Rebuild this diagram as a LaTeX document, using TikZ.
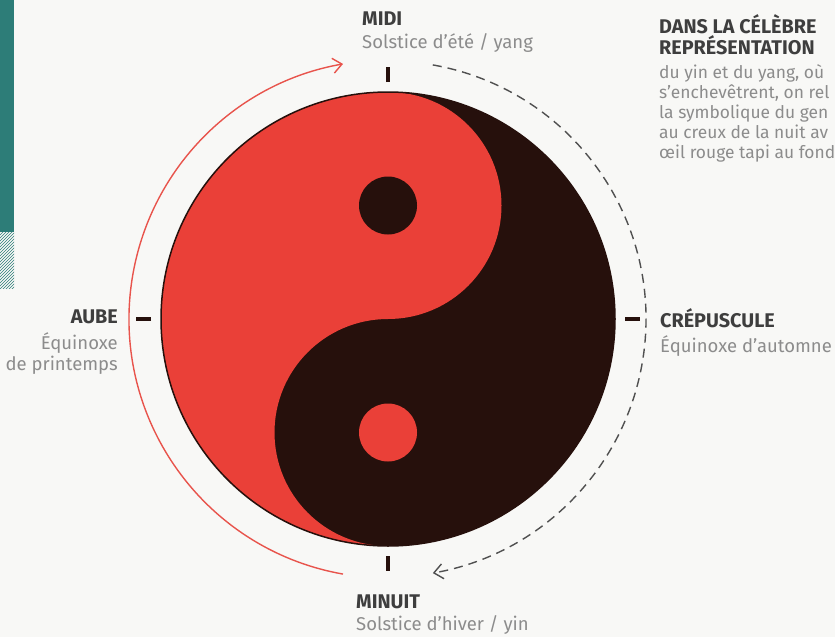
\documentclass[tikz,border=0pt]{standalone}
\usepackage{fontspec}
\setmainfont{Fira Sans}[Ligatures=NoCommon]
\usetikzlibrary{arrows.meta,patterns}
\definecolor{yangred}{RGB}{234,64,56}
\definecolor{yinbrown}{RGB}{38,16,12}
\definecolor{arcred}{RGB}{232,84,76}
\definecolor{dashgray}{RGB}{80,80,80}
\definecolor{labelgray}{RGB}{62,62,62}
\definecolor{softgray}{RGB}{140,140,140}
\definecolor{barteal}{RGB}{45,125,120}
\definecolor{paper}{RGB}{248,248,246}
\begin{document}
\begin{tikzpicture}[x=1pt,y=1pt,
  title/.style={font=\fontsize{19.8}{22}\selectfont\bfseries,text=labelgray,inner sep=0pt},
  subtitle/.style={font=\fontsize{18.5}{21}\selectfont,text=softgray,inner sep=0pt},
  bodytext/.style={font=\fontsize{17.4}{20}\selectfont,text=softgray,inner sep=0pt},
  tickmark/.style={line width=4pt,yinbrown},
  cycle arrow/.style={line width=1.4pt,-{Straight Barb[length=9pt,width=15pt]}}]
\useasboundingbox (0,0) rectangle (835,-637);
\fill[paper] (0,0) rectangle (835,-637);
\fill[barteal] (0,0) rectangle (14,-232);
\fill[pattern=north east lines,pattern color=barteal] (0,-232) rectangle (14,-288);
\coordinate (c) at (388,-319);
\fill[yinbrown] (c) circle[radius=227];
\fill[yangred] ([yshift=227]c) arc[start angle=90,end angle=270,radius=227]
  arc[start angle=270,end angle=90,radius=113.5]
  arc[start angle=-90,end angle=90,radius=113.5] -- cycle;
\draw[yinbrown,line width=1.5pt] (c) circle[radius=227];
\fill[yinbrown] ([yshift=113.5]c) circle[radius=29];
\fill[yangred] ([yshift=-113.5]c) circle[radius=29];
\draw[tickmark] ([yshift=237]c) -- ([yshift=252]c);
\draw[tickmark] ([yshift=-237]c) -- ([yshift=-252]c);
\draw[tickmark] ([xshift=-237]c) -- ([xshift=-252]c);
\draw[tickmark] ([xshift=237]c) -- ([xshift=252]c);
\draw[cycle arrow,arcred] ([shift={(260:259)}]c) arc[start angle=260,end angle=100,radius=259];
\draw[cycle arrow,dashgray,dash pattern=on 9pt off 6pt] ([shift={(80:258)}]c)
  arc[start angle=80,end angle=-80,radius=258];
\node[title,anchor=base west] (midi) at (362,-25) {MIDI};
\node[subtitle,anchor=base west] (midisub) at (362,-48) {Solstice d'été / yang};
\node[title,anchor=base west] (minuit) at (356,-608) {MINUIT};
\node[subtitle,anchor=base west] (minuitsub) at (356,-630) {Solstice d'hiver / yin};
\node[title,anchor=base east] (aube) at (118,-323) {AUBE};
\node[subtitle,anchor=base east] (aubesub) at (118,-349) {Équinoxe};
\node[subtitle,anchor=base east] (aubesubb) at (118,-370) {de printemps};
\node[title,anchor=base west] (crep) at (660,-327) {CRÉPUSCULE};
\node[subtitle,anchor=base west] (crepsub) at (660,-352) {Équinoxe d'automne};
\node[title,anchor=base west] (dans) at (659,-33) {DANS LA CÉLÈBRE};
\node[title,anchor=base west] (repr) at (659,-54) {REPRÉSENTATION};
\node[bodytext,anchor=base west] (para1) at (659,-78) {du yin et du yang, où};
\node[bodytext,anchor=base west] (para2) at (659,-98) {s'enchevêtrent, on rel};
\node[bodytext,anchor=base west] (para3) at (659,-118) {la symbolique du gen};
\node[bodytext,anchor=base west] (para4) at (659,-138) {au creux de la nuit av};
\node[bodytext,anchor=base west] (para5) at (659,-158) {œil rouge tapi au fond};
\end{tikzpicture}
\end{document}
